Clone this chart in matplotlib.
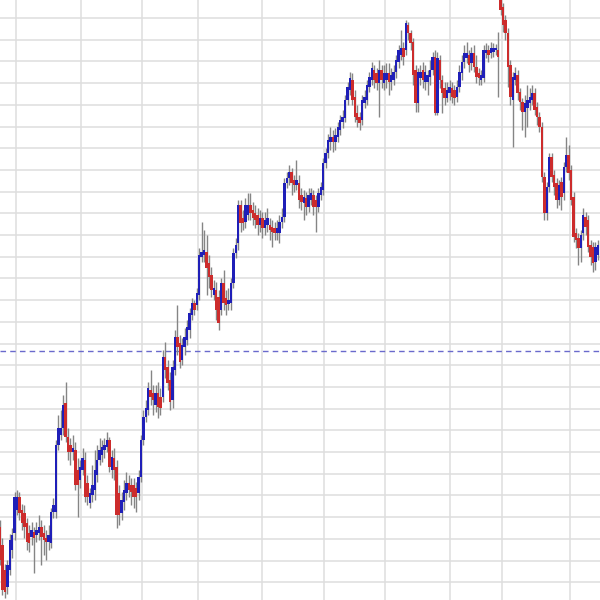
import numpy as np
import matplotlib
matplotlib.use("Agg")
import matplotlib.pyplot as plt

# OHLC per bar (price units, chart is unlabeled)
opens = [85, 73, 55, 30, 13, 30, 50, 67, 90, 103, 90, 87, 77, 67, 63,
         68, 65, 67, 73, 67, 62, 58, 57, 88, 88, 155, 165, 172, 197, 163,
         155, 148, 150, 130, 120, 130, 140, 117, 97, 105, 110, 125, 140, 145, 150,
         153, 160, 130, 142, 133, 107, 87, 98, 107, 117, 115, 115, 112, 107, 123,
         160, 183, 190, 210, 207, 195, 207, 203, 203, 243, 233, 220, 200, 230, 263,
         257, 240, 253, 260, 270, 285, 297, 295, 305, 343, 345, 348, 337, 325, 305,
         310, 303, 290, 317, 302, 296, 297, 317, 347, 357, 395, 382, 378, 385, 395,
         390, 387, 385, 375, 382, 372, 375, 375, 373, 372, 367, 367, 378, 383, 417,
         422, 428, 420, 415, 417, 405, 397, 402, 393, 400, 405, 400, 393, 405, 410,
         437, 447, 458, 463, 458, 463, 470, 478, 482, 500, 510, 520, 503, 487, 483,
         480, 497, 500, 513, 520, 530, 527, 517, 530, 517, 520, 527, 518, 520, 528,
         538, 545, 552, 550, 575, 567, 558, 530, 497, 522, 530, 518, 518, 523, 530,
         543, 487, 540, 520, 512, 502, 507, 512, 510, 503, 513, 527, 538, 542, 545,
         537, 547, 533, 527, 520, 522, 547, 550, 547, 548, 550, 550, 605, 593, 580,
         567, 535, 500, 520, 525, 508, 498, 488, 492, 497, 500, 507, 493,
         483, 473, 423, 387, 413, 443, 425, 417, 400, 418, 407, 433,
         445, 430, 403, 367, 362, 352, 367, 383, 380, 355, 353, 338, 345]
highs = [92, 80, 62, 36, 40, 66, 72, 108, 110, 108, 96, 95, 82, 75, 78,
         73, 78, 85, 80, 75, 70, 75, 92, 102, 160, 185, 190, 205, 218, 172,
         162, 165, 158, 142, 140, 152, 148, 125, 112, 135, 150, 155, 162, 160, 162,
         168, 163, 150, 152, 140, 115, 108, 120, 128, 125, 122, 122, 118, 130, 165,
         190, 200, 218, 230, 215, 215, 218, 212, 250, 258, 240, 228, 240, 270, 295,
         265, 262, 272, 280, 292, 302, 300, 312, 352, 378, 370, 365, 345, 333, 320,
         318, 310, 322, 330, 310, 312, 322, 352, 362, 400, 400, 390, 402, 407, 407,
         398, 395, 392, 390, 388, 388, 392, 382, 380, 378, 380, 385, 392, 422, 428,
         435, 432, 425, 440, 425, 412, 410, 408, 412, 412, 410, 405, 412, 418, 442,
         452, 466, 473, 470, 472, 478, 485, 490, 505, 518, 528, 527, 510, 495, 488,
         505, 510, 520, 528, 538, 535, 532, 540, 535, 535, 537, 537, 532, 535, 545,
         555, 570, 558, 580, 578, 570, 562, 535, 532, 535, 538, 535, 530, 540, 548,
         550, 548, 545, 525, 518, 518, 520, 518, 515, 520, 535, 545, 555, 558, 550,
         553, 555, 545, 532, 530, 555, 557, 555, 558, 557, 556, 568, 615, 597, 585,
         572, 540, 528, 533, 530, 512, 502, 505, 515, 512, 515, 512, 498,
         488, 478, 428, 418, 447, 447, 430, 422, 420, 423, 438, 463,
         455, 435, 408, 372, 367, 370, 392, 388, 385, 360, 358, 358, 360]
lows = [48, 35, 5, 2, 6, 25, 42, 60, 85, 80, 70, 62, 50, 48, 55,
        27, 58, 60, 35, 45, 40, 50, 52, 82, 82, 150, 160, 165, 158, 140,
        135, 140, 110, 83, 112, 125, 98, 95, 92, 98, 100, 118, 135, 138, 142,
        148, 128, 122, 120, 72, 75, 80, 90, 100, 103, 95, 92, 88, 100, 118,
        155, 178, 185, 195, 185, 188, 182, 185, 198, 222, 210, 190, 192, 225, 245,
        232, 235, 245, 255, 262, 280, 285, 290, 300, 338, 338, 305, 312, 303, 300,
        280, 270, 285, 290, 285, 290, 290, 312, 342, 350, 368, 370, 372, 380, 380,
        375, 372, 365, 368, 362, 365, 368, 360, 353, 360, 360, 357, 372, 378, 412,
        415, 405, 408, 410, 392, 390, 380, 385, 388, 395, 385, 368, 388, 400, 405,
        432, 442, 450, 448, 450, 458, 465, 472, 478, 495, 505, 495, 478, 473, 470,
        475, 492, 495, 508, 515, 512, 510, 483, 512, 510, 512, 505, 510, 515, 522,
        532, 540, 535, 545, 560, 550, 515, 488, 488, 515, 512, 510, 505, 515, 525,
        485, 485, 512, 487, 495, 498, 500, 497, 495, 498, 508, 520, 532, 537, 528,
        530, 528, 517, 515, 515, 518, 542, 538, 542, 543, 545, 503, 585, 568, 560,
        513, 495, 453, 515, 500, 490, 470, 463, 473, 490, 495, 485, 475,
        468, 418, 380, 380, 408, 418, 405, 392, 395, 390, 400, 428,
        420, 395, 358, 352, 335, 338, 360, 365, 348, 335, 328, 330, 340]
closes = [55, 40, 10, 8, 35, 60, 65, 103, 103, 87, 77, 73, 58, 57, 70,
          62, 70, 73, 63, 60, 58, 65, 88, 95, 155, 172, 172, 195, 163, 148,
          148, 152, 115, 115, 133, 142, 103, 103, 107, 115, 130, 140, 150, 153, 155,
          160, 133, 143, 130, 85, 85, 100, 110, 117, 110, 108, 103, 103, 123, 160,
          183, 192, 212, 203, 200, 207, 193, 192, 243, 230, 217, 198, 233, 263, 253,
          238, 255, 263, 273, 287, 297, 290, 307, 345, 348, 350, 332, 323, 310, 312,
          290, 277, 317, 297, 295, 300, 317, 347, 355, 395, 377, 377, 395, 395, 387,
          382, 380, 375, 382, 372, 380, 382, 370, 368, 367, 372, 378, 383, 417, 422,
          428, 417, 415, 420, 400, 398, 403, 393, 405, 407, 393, 393, 407, 413, 437,
          447, 460, 463, 458, 465, 473, 480, 483, 500, 513, 522, 500, 483, 480, 477,
          500, 503, 515, 523, 532, 520, 517, 530, 520, 527, 527, 518, 525, 528, 540,
          550, 552, 543, 577, 567, 557, 525, 497, 528, 528, 520, 528, 525, 530, 543,
          487, 542, 520, 507, 502, 510, 513, 503, 502, 513, 528, 538, 547, 547, 535,
          547, 533, 523, 522, 525, 550, 550, 545, 552, 552, 552, 543, 590, 575, 567,
          533, 503, 523, 527, 507, 498, 488, 497, 500, 503, 507, 490, 483,
          473, 423, 387, 413, 443, 423, 413, 400, 415, 403, 433, 445,
          427, 400, 363, 360, 352, 365, 385, 373, 353, 343, 337, 353, 355]

# bar index where a new session starts (vertical grid)
session_starts = [7.5, 34.5, 59.5, 82.5, 109, 134.5, 159.5, 186, 207.5, 235.5]
ref_level = 249

up_color = '#1f1fb8'
down_color = '#cc2c2c'
wick_color = '#858585'

o = np.array(opens)
c = np.array(closes)
idx = np.arange(len(o))
up = c >= o

fig = plt.figure(figsize=(6, 6), dpi=100)
ax = fig.add_axes([0, 0, 1, 1])
for s in ax.spines.values():
    s.set_visible(False)

# grid
for xs in session_starts:
    ax.axvline(xs, color='#dedede', lw=1.1, zorder=0)
for yg in np.arange(582, 0, -21.7):
    ax.axhline(yg, color='#dedede', lw=1.1, zorder=0)

ax.axhline(ref_level, color='#6a6acc', lw=1, ls=(0, (4, 3)), zorder=1)

ax.vlines(idx, lows, highs, color=wick_color, lw=1.0, zorder=2)
body = np.where(np.abs(c - o) < 2, 2, c - o)
ax.bar(idx[up], body[up], bottom=o[up], width=1.0, color=up_color, zorder=3)
ax.bar(idx[~up], body[~up], bottom=o[~up], width=1.0, color=down_color, zorder=3)

ax.set_xlim(1.0, 247.9)
ax.set_ylim(0, 600)
ax.set_xticks([])
ax.set_yticks([])

fig.savefig('out.png', dpi=100)
